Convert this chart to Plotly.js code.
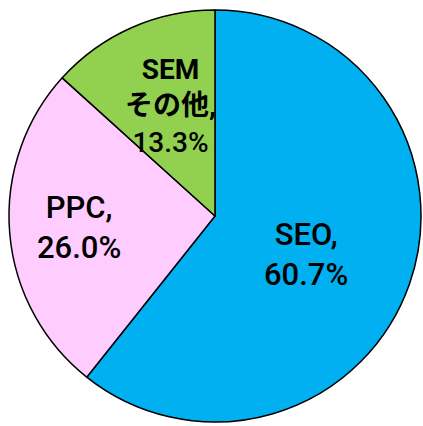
<!DOCTYPE html>
<html><head><meta charset="utf-8">
<script src="https://cdn.plot.ly/plotly-3.0.1.min.js"></script>
<style>html,body{margin:0;padding:0;background:#fff}#chart{width:423px;height:426px}</style>
</head><body><div id="chart"></div>
<script>
const labels = ["SEO", "PPC", "SEM<br>その他"];
const values = [60.7, 26.0, 13.3];
const colors = ["#00B0F0", "#FFCCFF", "#92D050"];
// label placement styles: radial fraction, angle offset (deg), font size, bold label
const labelRadius = [0.48, 0.66, 0.575];
const labelAngleOffset = [3.5, 0, 2];
const labelSize = [31, 31, 28];
const labelBold = [false, false, true];

const W = 423, H = 426, M = {l: 9, r: 2, t: 10, b: 4};
const pw = W - M.l - M.r, ph = H - M.t - M.b;
const R = Math.min(pw, ph) / 2;
const total = values.reduce((a, b) => a + b, 0);
let cum = 0;
const annotations = values.map((v, i) => {
  const mid = (cum + v / 2) / total * 360 + labelAngleOffset[i];
  cum += v;
  const th = mid * Math.PI / 180;
  const r = labelRadius[i] * R;
  const px = pw / 2 + r * Math.sin(th);
  const py = ph / 2 - r * Math.cos(th);
  const pct = (v / total * 100).toFixed(1) + '%';
  const lab = labelBold[i] ? '<b>' + labels[i].split('<br>').join('</b><br><b>') + ',</b>' : labels[i] + ',';
  return {
    xref: 'paper', yref: 'paper', x: px / pw, y: 1 - py / ph,
    xanchor: 'center', yanchor: 'middle', showarrow: false,
    text: lab + '<br>' + pct,
    font: {family: 'Roboto, "Noto Sans CJK JP", sans-serif', size: labelSize[i], color: '#000', weight: 500}
  };
});

Plotly.newPlot('chart', [{
  type: 'pie',
  labels: labels,
  values: values,
  sort: false,
  direction: 'clockwise',
  rotation: 0,
  marker: {colors: colors, line: {color: '#000', width: 1.5}},
  textinfo: 'none',
  hoverinfo: 'none'
}], {
  width: W, height: H,
  margin: M,
  showlegend: false,
  paper_bgcolor: '#fff',
  annotations: annotations
}, {staticPlot: true});
</script></body></html>
